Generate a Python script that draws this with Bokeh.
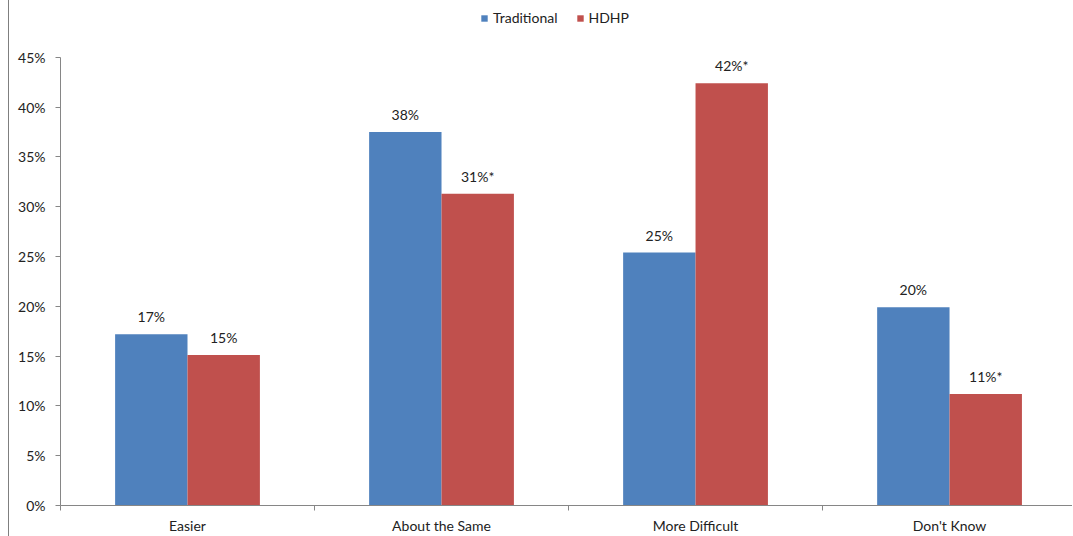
from bokeh.plotting import figure
from bokeh.models import (ColumnDataSource, Range1d, FixedTicker, Legend, LegendItem,
                          LabelSet)
from bokeh.core.properties import value
from bokeh.embed import file_html
from bokeh.resources import INLINE

categories = ["Easier", "About the Same", "More Difficult", "Don't Know"]
traditional = [17.2, 37.5, 25.4, 19.9]
hdhp = [15.1, 31.3, 42.4, 11.2]
trad_labels = ["17%", "38%", "25%", "20%"]
hdhp_labels = ["15%", "31%*", "42%*", "11%*"]
y_ticks = [0, 5, 10, 15, 20, 25, 30, 35, 40, 45]

BLUE = "#4F81BD"
RED = "#C0504D"
FONT = "Lato"
FS = "14px"
AXIS = "#868686"
TXT = "#222222"

centers = [i + 0.5 for i in range(len(categories))]
bw = 0.285
trad_x = [c - bw / 2 for c in centers]
hdhp_x = [c + bw / 2 for c in centers]

src_t = ColumnDataSource(dict(x=trad_x, top=traditional, lab=trad_labels))
src_h = ColumnDataSource(dict(x=hdhp_x, top=hdhp, lab=hdhp_labels))

p = figure(width=1064, height=536, output_backend="svg", toolbar_location=None,
           x_range=Range1d(0, 3.988), y_range=Range1d(0, 50.7),
           min_border_left=51, min_border_right=0, min_border_top=0, min_border_bottom=28)
p.outline_line_color = None
p.xgrid.grid_line_color = None
p.ygrid.grid_line_color = None
p.background_fill_color = "white"
p.border_fill_color = "white"
p.styles = {"border-left": "1px solid #7f7f7f", "margin-left": "8px"}

r1 = p.vbar(x="x", top="top", width=bw, source=src_t, fill_color=BLUE, line_color=None)
r2 = p.vbar(x="x", top="top", width=bw, source=src_h, fill_color=RED, line_color=None)

for src in (src_t, src_h):
    p.add_layout(LabelSet(x="x", y="top", text="lab", source=src, text_align="center",
                          text_baseline="bottom", y_offset=9, text_font=value(FONT),
                          text_font_size=FS, text_color=TXT))

# x axis
p.xaxis.ticker = FixedTicker(ticks=centers, minor_ticks=[0, 1, 2, 3, 4])
p.xaxis.major_label_overrides = {c: n for c, n in zip(centers, categories)}
p.xaxis.major_tick_line_color = None
p.xaxis.major_tick_out = 0
p.xaxis.major_tick_in = 0
p.xaxis.minor_tick_line_color = AXIS
p.xaxis.minor_tick_out = 5
p.xaxis.minor_tick_in = 0
p.xaxis.axis_line_color = AXIS
p.xaxis.major_label_standoff = 6
p.xaxis.major_label_text_font = FONT
p.xaxis.major_label_text_font_size = FS
p.xaxis.major_label_text_color = TXT

# y axis
p.yaxis.ticker = FixedTicker(ticks=y_ticks)
p.yaxis.bounds = (0, 45)
p.yaxis.major_label_overrides = {v: f"{v}%" for v in y_ticks}
p.yaxis.minor_tick_line_color = None
p.yaxis.major_tick_line_color = AXIS
p.yaxis.major_tick_out = 5
p.yaxis.major_tick_in = 0
p.yaxis.axis_line_color = AXIS
p.yaxis.major_label_standoff = 10
p.yaxis.major_label_text_font = FONT
p.yaxis.major_label_text_font_size = FS
p.yaxis.major_label_text_color = TXT

legend = Legend(items=[LegendItem(label="Traditional", renderers=[r1]),
                       LegendItem(label="HDHP", renderers=[r2])],
                orientation="horizontal", location=(420, 479),
                glyph_width=8, glyph_height=8, label_text_font=FONT,
                label_text_font_size=FS, label_text_color=TXT,
                border_line_color=None, background_fill_alpha=0,
                spacing=18, padding=0, margin=0, label_standoff=5)
p.add_layout(legend, "center")

open("out.html", "w").write(file_html(p, INLINE))
